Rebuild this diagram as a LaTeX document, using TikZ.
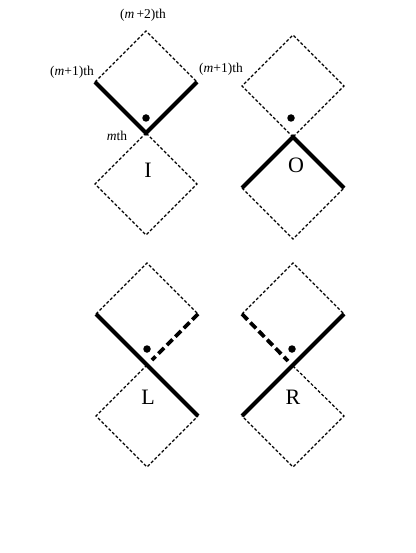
\documentclass[tikz,border=0pt]{standalone}
\usepackage{fontspec}
\setmainfont{Liberation Serif}
\usepackage{tikz}
\usetikzlibrary{positioning}

\tikzset{
  thin edge/.style={line width=1.2pt, dash pattern=on 3pt off 2pt},
  thick edge/.style={line width=4.2pt},
  thick dash/.style={line width=3.8pt, dash pattern=on 8pt off 4pt},
  site/.style={circle, fill=black, inner sep=0pt, minimum size=7.5pt},
  rank/.style={font=\fontsize{13.5}{15}\selectfont, inner sep=1pt},
  tag/.style={font=\fontsize{22}{26}\selectfont, inner sep=0pt}
}

\begin{document}
\begin{tikzpicture}[x=1pt,y=-1pt]
\useasboundingbox (0,0) rectangle (415,553);

% I
	\coordinate (Ic) at (146,133);
	\coordinate (It) at (146,31);
	\coordinate (Itl) at (95,82);
	\coordinate (Itr) at (197,82);
	\coordinate (Ibl) at (95,184);
	\coordinate (Ibr) at (197,184);
	\coordinate (Ib) at (146,235);
	\node[site] (Idot) at (146,118) {};
	\node[tag] (Itag) at (148,170) {I};
	\node[rank] (top) at (143,15) {(\textit{m}\,+2)th};
	\node[rank] (left) at (72,72) {(\textit{m}+1)th};
	\node[rank] (right) at (221,69) {(\textit{m}+1)th};
	\node[rank] (mid) at (117,136) {\textit{m}th};

	\draw[thin edge] (Itl) -- (It) -- (Itr);
	\draw[thick edge, line join=miter] (Itl) -- (Ic) -- (Itr);
	\draw[thin edge] (Ic) -- (Ibl) -- (Ib) -- (Ibr) -- (Ic);

% O
	\coordinate (Oc) at (293,137);
	\coordinate (Ot) at (293,35);
	\coordinate (Otl) at (242,86);
	\coordinate (Otr) at (344,86);
	\coordinate (Obl) at (242,188);
	\coordinate (Obr) at (344,188);
	\coordinate (Ob) at (293,239);
	\node[site] (Odot) at (291,118) {};
	\node[tag] (Otag) at (296,165) {O};

	\draw[thin edge] (Oc) -- (Otl) -- (Ot) -- (Otr) -- (Oc);
	\draw[thick edge, line join=miter] (Obl) -- (Oc) -- (Obr);
	\draw[thin edge] (Obl) -- (Ob) -- (Obr);

% L
	\coordinate (Lc) at (147,365);
	\coordinate (Lt) at (147,263);
	\coordinate (Ltl) at (96,314);
	\coordinate (Ltr) at (198,314);
	\coordinate (Lbl) at (96,416);
	\coordinate (Lbr) at (198,416);
	\coordinate (Lb) at (147,467);
	\coordinate (Lend) at (152,360);
	\node[site] (Ldot) at (147,349) {};
	\node[tag] (Ltag) at (148,397) {L};

	\draw[thin edge] (Ltl) -- (Lt) -- (Ltr);
	\draw[thick dash] (Ltr) -- (Lend);
	\draw[thin edge] (Lc) -- (Lbl) -- (Lb) -- (Lbr);
	\draw[thick edge] (Ltl) -- (Lbr);

% R
	\coordinate (Rc) at (293,366);
	\coordinate (Rt) at (293,263);
	\coordinate (Rtl) at (242,314);
	\coordinate (Rtr) at (344,314);
	\coordinate (Rbl) at (242,416);
	\coordinate (Rbr) at (344,416);
	\coordinate (Rb) at (293,467);
	\coordinate (Rend) at (288,361);
	\node[site] (Rdot) at (292,349) {};
	\node[tag] (Rtag) at (293,397) {R};

	\draw[thin edge] (Rtl) -- (Rt) -- (Rtr);
	\draw[thick dash] (Rtl) -- (Rend);
	\draw[thin edge] (Rc) -- (Rbr) -- (Rb) -- (Rbl);
	\draw[thick edge] (Rbl) -- (Rtr);
\end{tikzpicture}
\end{document}
